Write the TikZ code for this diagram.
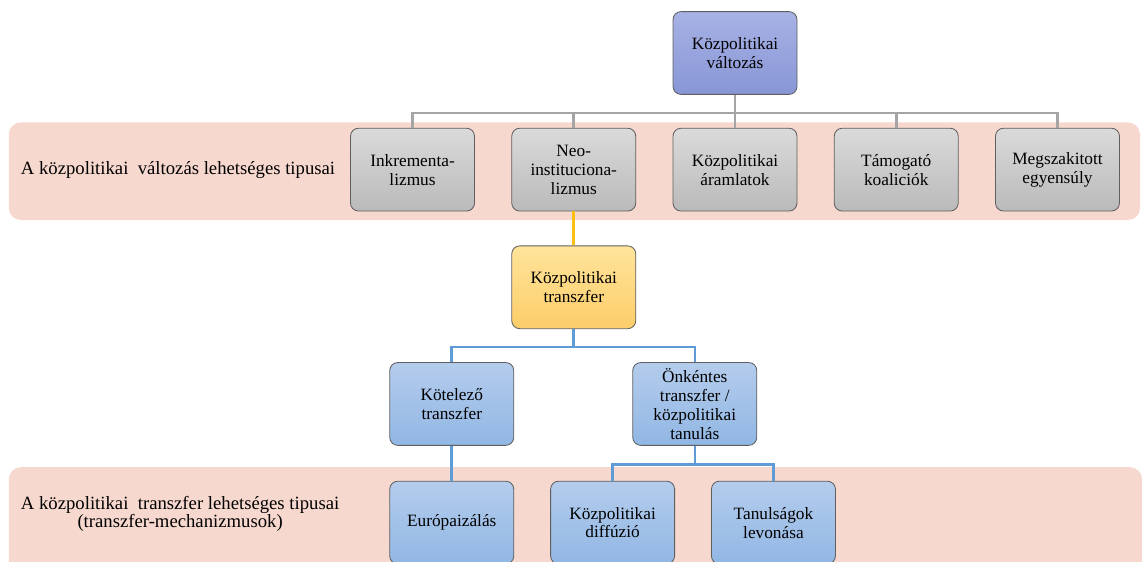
\documentclass[tikz,border=0pt]{standalone}
\usepackage{fontspec}
\setmainfont{Liberation Serif}
\usetikzlibrary{positioning}

\definecolor{bandpink}{RGB}{247,216,206}
\definecolor{boxedge}{RGB}{95,95,95}
\definecolor{graylink}{RGB}{165,165,165}
\definecolor{goldlink}{RGB}{250,190,20}
\definecolor{bluelink}{RGB}{95,155,215}

\begin{document}
\begin{tikzpicture}[
  node distance=0.825cm and 0.91cm,
  box/.style={draw=boxedge, rounded corners=0.2cm, line width=0.6pt,
              minimum width=3.1cm, minimum height=2.07cm, inner sep=2pt,
              align=center, font=\rmfamily\fontsize{12.3}{13.5}\selectfont},
  topbox/.style={box, top color={rgb,255:red,168;green,178;blue,228},
                 bottom color={rgb,255:red,135;green,150;blue,214}},
  typebox/.style={box, top color={rgb,255:red,218;green,218;blue,218},
                  bottom color={rgb,255:red,186;green,186;blue,186}},
  transbox/.style={box, top color={rgb,255:red,255;green,228;blue,155},
                   bottom color={rgb,255:red,252;green,205;blue,105}},
  mechbox/.style={box, top color={rgb,255:red,180;green,204;blue,236},
                  bottom color={rgb,255:red,145;green,183;blue,228}},
  band/.style={fill=bandpink, rounded corners=0.3cm},
  bandlabel/.style={anchor=west, align=center, font=\rmfamily\fontsize{13.3}{12.4}\selectfont},
  link/.style={line width=1.8pt}
]
  \useasboundingbox (0,0) rectangle (28.55,-14.025);

  % background bands
  \fill[band] (0.22,-3.06) rectangle (28.5,-5.5);
  \fill[band] (0.22,-11.68) rectangle (28.55,-14.6);
  \node[bandlabel] (lab1) at (0.4,-4.25) {A közpolitikai\ \ változás lehetséges tipusai};
  \node[bandlabel] (lab2) at (0.4,-12.85) {A közpolitikai\ \ transzfer lehetséges tipusai\\(transzfer-mechanizmusok)};

  % top and the types of change
  \node[topbox] (valt) at (18.375,-1.325) {Közpolitikai\\változás};
  \node[typebox] (aram) [below=of valt] {Közpolitikai\\áramlatok};
  \node[typebox] (neo) [left=of aram] {Neo-\\instituciona-\\lizmus};
  \node[typebox] (inkr) [left=of neo] {Inkrementa-\\lizmus};
  \node[typebox] (tam) [right=of aram] {Támogató\\koaliciók};
  \node[typebox] (megsz) [right=of tam] {Megszakitott\\egyensúly};

  % transfer and its mechanisms
  \node[transbox] (transz) [below=0.85cm of neo] {Közpolitikai\\transzfer};
  \node[mechbox] (kotel) [below=of transz, xshift=-3.05cm] {Kötelező\\transzfer};
  \node[mechbox] (onk) [below=of transz, xshift=3.025cm] {Önkéntes\\transzfer /\\közpolitikai\\tanulás};
  \node[mechbox] (eur) [below=0.875cm of kotel] {Európaizálás};
  \node[mechbox] (diff) [right=0.9cm of eur] {Közpolitikai\\diffúzió};
  \node[mechbox] (tan) [right=0.9cm of diff] {Tanulságok\\levonása};

  % connectors
  \draw[link, graylink] (valt.south) -- ++(0,-0.45) coordinate (gbar);
  \foreach \n in {inkr,neo,aram,tam,megsz}
    \draw[link, graylink] (gbar) -| (\n.north);
  \draw[link, goldlink] (neo.south) -- (transz.north);
  \draw[link, bluelink] (transz.south) -- ++(0,-0.45) coordinate (tbar);
  \draw[link, bluelink] (tbar) -| (kotel.north);
  \draw[link, bluelink] (tbar) -| (onk.north);
  \draw[link, bluelink] (kotel.south) -- (eur.north);
  \draw[link, bluelink] (onk.south) -- ++(0,-0.475) coordinate (obar);
  \draw[link, bluelink] (obar) -| (diff.north);
  \draw[link, bluelink] (obar) -| (tan.north);
\end{tikzpicture}
\end{document}
